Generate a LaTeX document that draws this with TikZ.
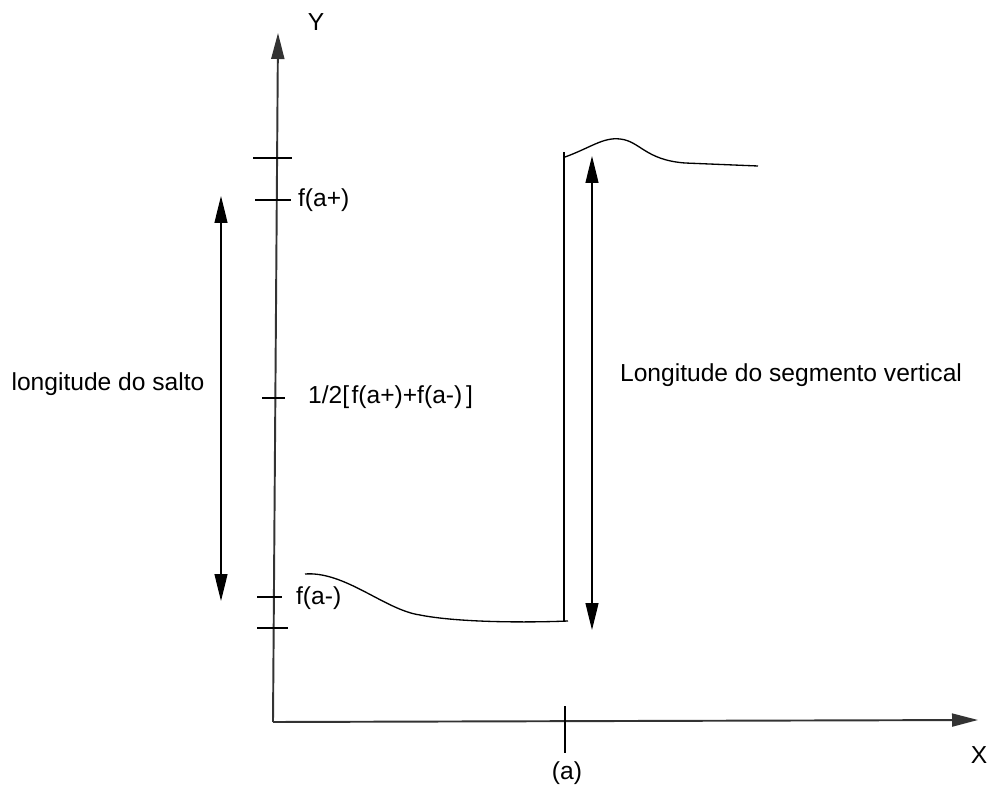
\documentclass[tikz,border=0pt]{standalone}
\usepackage{fontspec}
\setmainfont{Liberation Sans}
\usetikzlibrary{arrows.meta}
\tikzset{
  axis/.style={draw=black!80,line width=1.1pt,-{Triangle[length=0.52cm,width=0.26cm]}},
  tick/.style={draw,line width=0.7pt},
  graph/.style={draw,line width=0.75pt},
  span/.style={draw,line width=0.7pt,{Triangle[length=0.54cm,width=0.26cm]}-{Triangle[length=0.54cm,width=0.26cm]}},
  label/.style={font=\fontsize{14}{16}\selectfont,inner sep=1pt},
  mark label/.style={label,anchor=west}
}

\begin{document}
\begin{tikzpicture}[x=0.02cm,y=-0.02cm]
\useasboundingbox (0,0) rectangle (988,787);

% Axes
\coordinate (O) at (273,722);
\coordinate (ytop) at (278,33);
\coordinate (xend) at (978,720);
\draw[axis] (O) -- (ytop);
\draw[axis] (O) -- (xend);
\node[label] (ylab) at (316,22) {Y};
\node[label] (xlab) at (979,755) {X};

% Ticks on the Y axis
\coordinate (t1a) at (253,158); \coordinate (t1b) at (292,158);
\coordinate (t2a) at (255,200); \coordinate (t2b) at (291,200);
\coordinate (t3a) at (262,398); \coordinate (t3b) at (285,398);
\coordinate (t4a) at (257,597); \coordinate (t4b) at (282,597);
\coordinate (t5a) at (257,628); \coordinate (t5b) at (288,628);
\draw[tick] (t1a) -- (t1b);
\draw[tick] (t2a) -- (t2b);
\draw[tick] (t3a) -- (t3b);
\draw[tick] (t4a) -- (t4b);
\draw[tick] (t5a) -- (t5b);
\node[mark label] (fap) at (296,200) {f(a+)};
\node[mark label] (mid) at (306,397) {1/2[\kern0.1em f(a+)+f(a-)\kern0.15em]};
\node[mark label] (fam) at (294,598) {f(a-)};

% Tick on the X axis
\coordinate (xa1) at (565,706); \coordinate (xa2) at (565,753);
\draw[tick] (xa1) -- (xa2);
\node[label] (alab) at (567,773) {(a)};

% The function with its jump at a
\coordinate (lstart) at (305,574);
\coordinate (lend) at (568,621);
\coordinate (jbot) at (564,621);
\coordinate (jtop) at (564,152);
\coordinate (rstart) at (565,157);
\coordinate (rend) at (758,166);
\draw[graph] (lstart) .. controls (345,571) and (385,610) .. (420,615)
  .. controls (455,622) and (520,623) .. (lend);
\draw[graph] (jbot) -- (jtop);
\draw[graph] (rstart) .. controls (590,148) and (603,137) .. (620,139)
  .. controls (640,141) and (645,160) .. (685,163) -- (rend);

% Lengths
\coordinate (s1) at (221,196); \coordinate (s2) at (221,601);
\coordinate (v1) at (592,156); \coordinate (v2) at (592,630);
\draw[span] (s1) -- (s2);
\draw[span] (v1) -- (v2);
\node[label] (salto) at (108,384) {longitude do salto};
\node[label,anchor=west] (vert) at (618,375) {Longitude do segmento vertical};

\end{tikzpicture}
\end{document}
